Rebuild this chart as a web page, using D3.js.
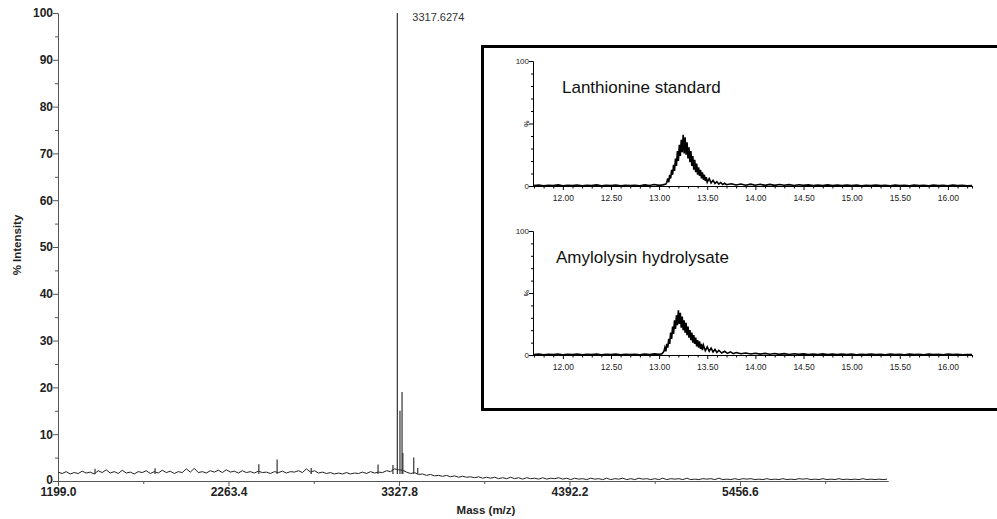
<!DOCTYPE html>
<meta charset="utf-8">
<style>
body { margin: 0; background: #fff; }
svg { font-family: "Liberation Sans", Arial, sans-serif; }
.main .tick text { font-weight: bold; font-size: 12px; fill: #222; }
.main path, .main line { stroke: #555; }
.inset .tick text { font-size: 8.5px; fill: #222; }
.inset path, .inset line { stroke: #000; }
</style>
<body>
<script src="https://cdn.jsdelivr.net/npm/d3@7"></script>
<script>

// main MALDI spectrum: baseline trace
var baseMass = [1200,1225,1250,1275,1300,1325,1350,1375,1400,1425,1450,1475,1500,1525,1550,1575,1600,1625,1650,1675,
  1700,1725,1750,1775,1800,1825,1850,1875,1900,1925,1950,1975,2000,2025,2050,2075,2100,2125,2150,2175,
  2200,2225,2250,2275,2300,2325,2350,2375,2400,2425,2450,2475,2500,2525,2550,2575,2600,2625,2650,2675,
  2700,2725,2750,2775,2800,2825,2850,2875,2900,2925,2950,2975,3000,3025,3050,3075,3100,3125,3150,3175,
  3200,3225,3250,3275,3300,3325,3350,3375,3400,3425,3450,3475,3500,3525,3550,3575,3600,3625,3650,3675,
  3700,3725,3750,3775,3800,3825,3850,3875,3900,3925,3950,3975,4000,4025,4050,4075,4100,4125,4150,4175,
  4200,4225,4250,4275,4300,4325,4350,4375,4400,4425,4450,4475,4500,4525,4550,4575,4600,4625,4650,4675,
  4700,4725,4750,4775,4800,4825,4850,4875,4900,4925,4950,4975,5000,5025,5050,5075,5100,5125,5150,5175,
  5200,5225,5250,5275,5300,5325,5350,5375,5400,5425,5450,5475,5500,5525,5550,5575,5600,5625,5650,5675,
  5700,5725,5750,5775,5800,5825,5850,5875,5900,5925,5950,5975,6000,6025,6050,6075,6100,6125,6150,6175,
  6200,6225,6250,6275,6300,6325,6350,6375];
var baseInt = [1.9,1.6,2.0,1.5,1.8,1.6,2.1,1.7,1.9,1.5,2.2,1.8,2.4,1.7,2.0,1.6,2.3,1.7,1.9,1.5,
  2.0,1.8,2.2,1.6,2.0,1.7,2.3,1.8,2.1,1.6,2.0,1.8,2.6,1.9,2.7,1.8,2.0,1.7,2.2,1.9,
  2.3,1.8,2.4,1.9,2.1,1.7,2.2,1.8,2.0,1.7,2.1,1.8,1.9,1.6,2.0,1.8,2.1,1.7,2.0,1.9,
  2.2,1.8,2.6,1.9,2.2,1.7,1.9,1.6,1.8,1.5,1.7,1.5,1.8,1.5,1.7,1.6,1.9,1.6,2.0,1.7,
  1.9,1.8,2.2,2.0,2.6,2.4,2.3,1.9,1.6,1.8,1.4,1.5,1.2,1.4,1.1,1.2,1.0,1.2,0.9,1.1,
  0.8,1.0,0.8,0.9,0.7,0.9,0.6,0.8,0.6,0.8,0.5,0.7,0.5,0.8,0.5,0.7,0.4,0.7,0.5,0.6,
  0.4,0.7,0.4,0.6,0.5,0.7,0.4,0.6,0.3,0.6,0.4,0.5,0.3,0.6,0.4,0.5,0.3,0.6,0.3,0.5,
  0.4,0.6,0.3,0.5,0.3,0.6,0.4,0.5,0.3,0.5,0.3,0.6,0.3,0.5,0.4,0.5,0.3,0.6,0.3,0.4,
  0.3,0.5,0.4,0.5,0.3,0.6,0.3,0.4,0.3,0.5,0.3,0.5,0.4,0.5,0.3,0.4,0.3,0.5,0.3,0.4,
  0.3,0.5,0.3,0.4,0.3,0.5,0.4,0.5,0.3,0.4,0.3,0.5,0.3,0.4,0.3,0.5,0.3,0.4,0.3,0.4,
  0.3,0.5,0.3,0.4,0.3,0.4,0.3,0.4];

// isolated peaks drawn as sticks
var peakMass = [1430, 1805, 2453, 2567, 2780, 3197, 3290, 3317.6274, 3334, 3347, 3352, 3420, 3445];
var peakInt  = [2.6, 2.7, 3.6, 4.6, 2.8, 3.5, 3.4, 100, 15, 19, 6, 5, 2.8];
var peakLabel = "3317.6274";

var massTicks = [1199.0, 2263.4, 3327.8, 4392.2, 5456.6];
var massMinor = [1731.2, 2795.6, 3860.0, 4924.4, 5988.8];
var intTicks = [0, 10, 20, 30, 40, 50, 60, 70, 80, 90, 100];
var intMinor = [5, 15, 25, 35, 45, 55, 65, 75, 85, 95];

// inset LC traces (retention time, %)
var lanTime = [11.70,11.75,11.80,11.85,11.90,11.95,12.00,12.05,12.10,12.15,12.20,12.25,12.30,12.35,12.40,12.45,12.50,12.55,12.60,12.65,
  12.70,12.75,12.80,12.85,12.90,12.95,13.00,13.04,13.07,13.08,13.09,13.10,13.11,13.12,13.13,13.14,13.15,13.16,13.17,13.18,
  13.19,13.20,13.21,13.22,13.23,13.24,13.25,13.26,13.27,13.28,13.29,13.30,13.31,13.32,13.33,13.34,13.35,13.36,13.37,13.38,
  13.39,13.40,13.41,13.42,13.43,13.44,13.45,13.46,13.47,13.48,13.49,13.50,13.52,13.54,13.56,13.58,13.60,13.62,13.64,13.66,
  13.68,13.70,13.75,13.80,13.85,13.90,13.95,14.00,14.05,14.10,14.15,14.20,14.25,14.30,14.35,14.40,14.45,14.50,14.55,14.60,
  14.65,14.70,14.75,14.80,14.85,14.90,14.95,15.00,15.05,15.10,15.15,15.20,15.25,15.30,15.35,15.40,15.45,15.50,15.55,15.60,
  15.65,15.70,15.75,15.80,15.85,15.90,15.95,16.00,16.05,16.10,16.15,16.20,16.25];
var lanVal = [0.3,0.8,0.2,0.6,0.3,0.9,0.2,0.5,0.3,0.7,0.2,0.6,0.4,0.9,0.2,0.5,0.3,0.8,0.2,0.5,
  0.3,0.6,0.2,0.9,0.4,1.2,0.5,0.9,1.5,3,6,3,9,6,13,9,17,12,22,16,
  28,20,33,24,37,27,41,26,39,25,35,22,31,19,28,16,24,13,21,11,
  18,9,15,8,13,6,11,5,9,4,7,3,6,2.5,4.5,2,3.5,1.5,2.8,1.2,
  2.2,1,1.8,0.8,1.6,0.6,1.5,0.6,1.4,0.5,1.3,0.5,1.2,0.6,1.1,0.4,1.0,0.5,0.9,0.3,
  0.8,0.4,0.9,0.3,0.7,0.4,0.8,0.3,0.7,0.2,0.6,0.4,0.8,0.3,0.6,0.2,0.7,0.3,0.6,0.2,
  0.8,0.3,0.5,0.2,0.7,0.3,0.6,0.2,0.8,0.3,0.5,0.2,0.4];

var amyTime = [11.70,11.75,11.80,11.85,11.90,11.95,12.00,12.05,12.10,12.15,12.20,12.25,12.30,12.35,12.40,12.45,12.50,12.55,12.60,12.65,
  12.70,12.75,12.80,12.85,12.90,12.95,13.00,13.03,13.04,13.05,13.06,13.07,13.08,13.09,13.10,13.11,13.12,13.13,13.14,13.15,
  13.16,13.17,13.18,13.19,13.20,13.21,13.22,13.23,13.24,13.25,13.26,13.27,13.28,13.29,13.30,13.31,13.32,13.33,13.34,13.35,
  13.36,13.37,13.38,13.39,13.40,13.41,13.42,13.43,13.44,13.45,13.46,13.48,13.50,13.52,13.54,13.56,13.58,13.60,13.62,13.65,
  13.68,13.71,13.74,13.77,13.80,13.85,13.90,13.95,14.00,14.05,14.10,14.15,14.20,14.25,14.30,14.35,14.40,14.45,14.50,14.55,
  14.60,14.65,14.70,14.75,14.80,14.85,14.90,14.95,15.00,15.05,15.10,15.15,15.20,15.25,15.30,15.35,15.40,15.45,15.50,15.55,
  15.60,15.65,15.70,15.75,15.80,15.85,15.90,15.95,16.00,16.05,16.10,16.15,16.20,16.25];
var amyVal = [0.4,0.7,0.2,0.6,0.3,0.8,0.2,0.6,0.3,0.7,0.2,0.5,0.4,0.8,0.2,0.6,0.3,0.7,0.2,0.5,
  0.3,0.6,0.2,0.8,0.4,0.9,0.5,1,2,3,6,3,9,6,13,9,18,13,23,17,
  28,21,32,24,36,25,34,22,31,20,28,18,26,16,23,14,20,12,18,10,
  16,9,14,7,12,6,11,5,9,4,8,3.5,6.5,3,5.5,2.5,4.5,2,3.8,1.6,
  3,1.3,2.5,1.1,2,1,1.6,0.8,1.4,0.7,1.3,0.6,1.2,0.5,1.1,0.4,1.0,0.5,0.9,0.3,
  0.8,0.4,0.9,0.3,0.7,0.4,0.8,0.3,0.7,0.2,0.6,0.4,0.8,0.3,0.6,0.2,0.7,0.3,0.6,0.2,
  0.8,0.3,0.5,0.2,0.7,0.3,0.6,0.2,0.8,0.3,0.5,0.2,0.4,0.3];

var rtTicks = [12.00, 12.50, 13.00, 13.50, 14.00, 14.50, 15.00, 15.50, 16.00];
var rtMinor = [11.70,11.80,11.90,12.10,12.20,12.30,12.40,12.60,12.70,12.80,12.90,13.10,13.20,13.30,13.40,13.60,13.70,13.80,13.90,
  14.10,14.20,14.30,14.40,14.60,14.70,14.80,14.90,15.10,15.20,15.30,15.40,15.60,15.70,15.80,15.90,16.10,16.20,16.25];
var pctMinor = [10, 20, 30, 40, 60, 70, 80, 90];

var svg = d3.select("body").append("svg")
    .attr("width", 997)
    .attr("height", 519);

// ---------- main spectrum ----------
var x = d3.scaleLinear().domain([1199, 6381]).range([58, 888]);
var y = d3.scaleLinear().domain([0, 100]).range([481, 13]);

var main = svg.append("g").attr("class", "main");

main.append("g")
    .attr("transform", "translate(0,481)")
    .call(d3.axisBottom(x).tickValues(massMinor).tickSize(3).tickSizeOuter(0).tickFormat(""));
main.append("g")
    .attr("transform", "translate(0,481)")
    .call(d3.axisBottom(x).tickValues(massTicks).tickSize(5).tickSizeOuter(0).tickFormat(d3.format(".1f")))
    .selectAll(".tick text").attr("y", 6).attr("dy", "0.75em");

main.append("g")
    .attr("transform", "translate(58,0)")
    .call(d3.axisLeft(y).tickValues(intMinor).tickSize(3).tickSizeOuter(0).tickFormat(""));
main.append("g")
    .attr("transform", "translate(58,0)")
    .call(d3.axisLeft(y).tickValues(intTicks).tickSize(5).tickSizeOuter(0))
    .selectAll(".tick text").attr("x", -5).attr("dy", function(d) { return d === 0 ? "0.2em" : "0.32em"; });

var base = baseMass.map(function(m, i) { return [m, baseInt[i]]; });
svg.append("path")
    .datum(base)
    .attr("fill", "none")
    .attr("stroke", "#222")
    .attr("stroke-width", 1)
    .attr("d", d3.line().x(function(d) { return x(d[0]); }).y(function(d) { return y(d[1]); }));

svg.selectAll(".stick")
    .data(peakMass)
  .enter().append("line")
    .attr("class", "stick")
    .attr("x1", function(d) { return x(d); })
    .attr("x2", function(d) { return x(d); })
    .attr("y1", y(1.5))
    .attr("y2", function(d, i) { return y(peakInt[i]); })
    .attr("stroke", "#333")
    .attr("stroke-width", 1.2);

svg.append("text")
    .attr("x", x(peakMass[7]) + 15)
    .attr("y", 21)
    .style("font-size", "11px")
    .style("fill", "#333")
    .text(peakLabel);

svg.append("text")
    .attr("transform", "translate(21,245) rotate(-90)")
    .attr("text-anchor", "middle")
    .style("font-size", "11.5px")
    .style("font-weight", "bold")
    .style("fill", "#222")
    .text("% Intensity");

svg.append("text")
    .attr("x", 486)
    .attr("y", 514)
    .attr("text-anchor", "middle")
    .style("font-size", "11.5px")
    .style("font-weight", "bold")
    .style("fill", "#222")
    .text("Mass (m/z)");

// ---------- inset ----------
svg.append("rect")
    .attr("x", 482.5)
    .attr("y", 46.5)
    .attr("width", 530)
    .attr("height", 363)
    .attr("fill", "#fff")
    .attr("stroke", "#000")
    .attr("stroke-width", 3);

var rx = d3.scaleLinear().domain([11.69, 16.25]).range([533, 972]);

function panel(top, bottom, title, times, vals) {
  var py = d3.scaleLinear().domain([0, 100]).range([bottom, top]);
  var g = svg.append("g").attr("class", "inset");

  g.append("g")
      .attr("transform", "translate(0," + bottom + ")")
      .call(d3.axisBottom(rx).tickValues(rtMinor).tickSize(2.5).tickSizeOuter(0).tickFormat(""));
  g.append("g")
      .attr("transform", "translate(0," + bottom + ")")
      .call(d3.axisBottom(rx).tickValues(rtTicks).tickSize(4).tickSizeOuter(0).tickFormat(d3.format(".2f")))
      .selectAll(".tick text").attr("dy", "0.9em");

  g.append("g")
      .attr("transform", "translate(533,0)")
      .call(d3.axisLeft(py).tickValues(pctMinor).tickSize(2).tickSizeOuter(0).tickFormat(""));
  g.append("g")
      .attr("transform", "translate(533,0)")
      .call(d3.axisLeft(py).tickValues([0, 50, 100]).tickSize(4).tickSizeOuter(0)
        .tickFormat(function(d) { return d === 50 ? "" : d; }))
      .selectAll(".tick text").attr("x", -4).style("font-size", "8px");

  g.append("text")
      .attr("transform", "translate(" + 524 + "," + py(50) + ") rotate(90)")
      .attr("text-anchor", "middle")
      .style("font-size", "7px")
      .text("%");

  g.append("path")
      .datum(times.map(function(t, i) { return [t, vals[i]]; }))
      .attr("fill", "none")
      .attr("stroke", "#000")
      .attr("stroke-width", 1.6)
      .attr("d", d3.line().x(function(d) { return rx(d[0]); }).y(function(d) { return py(d[1]); }));

  g.append("text")
      .attr("class", "ptitle")
      .style("font-size", "17px")
      .style("fill", "#111")
      .text(title);
  return g;
}

panel(61, 186, "Lanthionine standard", lanTime, lanVal)
  .select(".ptitle").attr("x", 562).attr("y", 93);
panel(231, 355, "Amylolysin hydrolysate", amyTime, amyVal)
  .select(".ptitle").attr("x", 556).attr("y", 263);

</script>
</body>
